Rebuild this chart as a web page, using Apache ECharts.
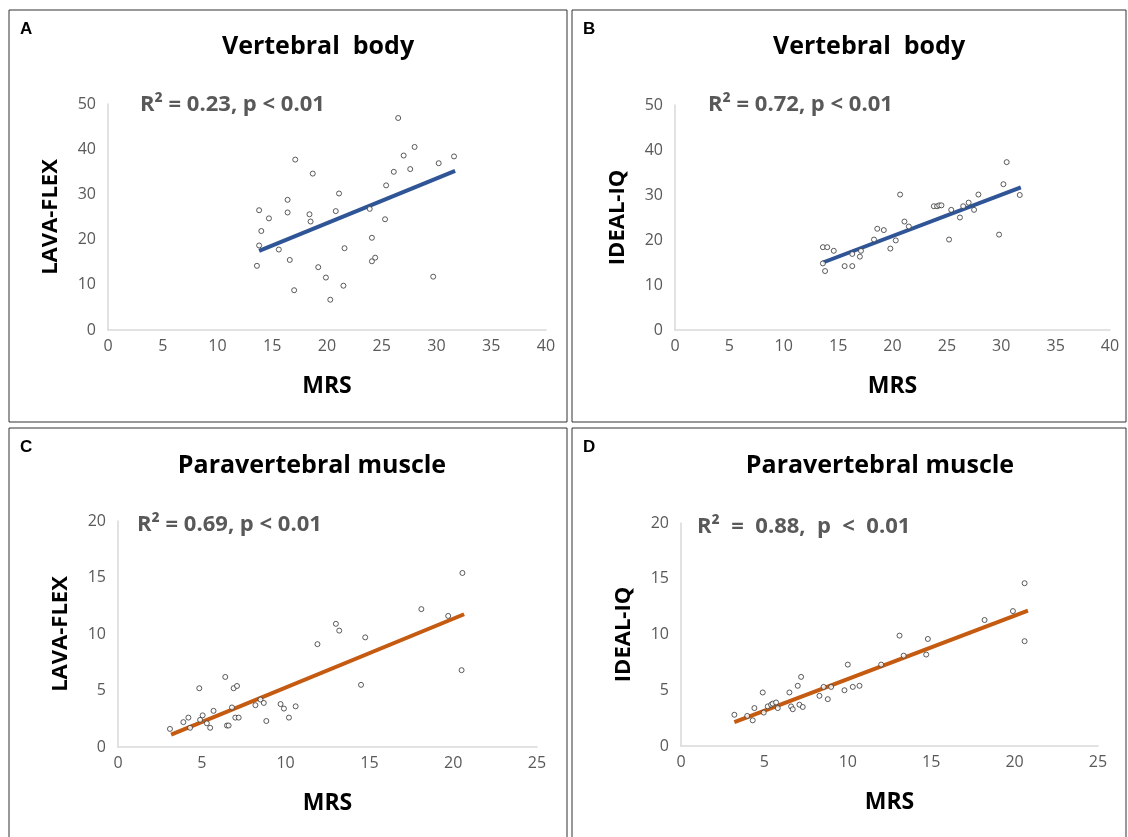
<!DOCTYPE html>
<html>
<head>
<meta charset="utf-8">
<script src="https://cdn.jsdelivr.net/npm/echarts@6/dist/echarts.min.js"></script>
<style>
  html, body { margin: 0; padding: 0; background: #fff; }
  #main { width: 1128px; height: 837px; }
</style>
</head>
<body>
<div id="main"></div>
<script>
// panel A: MRS vs LAVA-FLEX (vertebral body)
const aMrs  = [13.6, 13.8, 13.8, 14.0, 14.7, 15.6, 16.4, 16.4, 16.6, 17.0, 17.1, 18.4, 18.5, 18.7, 19.2, 19.9, 20.3, 20.8, 21.1, 21.5, 21.6, 23.9, 24.1, 24.1, 24.4, 25.3, 25.4, 26.1, 26.5, 27.0, 27.6, 28.0, 29.7, 30.2, 31.6];
const aLava = [14.2, 18.7, 26.5, 21.9, 24.7, 17.8, 28.8, 26.0, 15.5, 8.8, 37.7, 25.6, 24.0, 34.6, 13.9, 11.6, 6.7, 26.3, 30.2, 9.8, 18.1, 26.8, 20.4, 15.2, 16.0, 24.5, 32.0, 35.0, 46.9, 38.6, 35.6, 40.5, 11.8, 36.9, 38.4];
const aFit  = [[13.8, 17.5], [31.7, 35.2]];

// panel B: MRS vs IDEAL-IQ (vertebral body)
const bMrs   = [13.6, 14.0, 13.6, 13.8, 14.6, 15.6, 16.3, 16.3, 17.0, 17.1, 18.3, 18.6, 19.2, 19.8, 20.3, 20.7, 21.1, 21.5, 23.8, 24.1, 24.3, 24.5, 25.2, 25.4, 26.2, 26.5, 27.0, 27.5, 27.9, 29.8, 30.2, 30.5, 31.7];
const bIdeal = [18.4, 18.4, 14.8, 13.1, 17.6, 14.2, 14.2, 16.9, 16.3, 17.6, 20.1, 22.5, 22.2, 18.1, 19.9, 30.1, 24.1, 23.0, 27.5, 27.5, 27.7, 27.7, 20.1, 26.7, 25.0, 27.5, 28.3, 26.7, 30.1, 21.2, 32.4, 37.3, 30.0];
const bFit   = [[13.6, 15.0], [31.8, 31.7]];

// panel C: MRS vs LAVA-FLEX (paravertebral muscle)
const cMrs  = [3.1, 3.9, 4.2, 4.3, 4.85, 4.9, 5.05, 5.3, 5.5, 5.7, 6.4, 6.5, 6.6, 6.8, 6.9, 7.1, 7.0, 7.2, 8.2, 8.5, 8.7, 8.85, 9.7, 9.9, 10.2, 10.6, 11.9, 13.0, 13.2, 14.5, 14.75, 18.1, 19.7, 20.5, 20.55];
const cLava = [1.6, 2.2, 2.6, 1.7, 5.2, 2.4, 2.8, 2.1, 1.7, 3.2, 6.2, 1.9, 1.9, 3.5, 5.2, 5.4, 2.6, 2.6, 3.7, 4.2, 3.9, 2.3, 3.8, 3.4, 2.6, 3.6, 9.1, 10.9, 10.3, 5.5, 9.7, 12.2, 11.6, 6.8, 15.4];
const cFit  = [[3.17, 1.1], [20.65, 11.75]];

// panel D: MRS vs IDEAL-IQ (paravertebral muscle)
const dMrs   = [3.2, 3.97, 4.3, 4.4, 4.9, 4.96, 5.2, 5.4, 5.5, 5.7, 5.8, 6.5, 6.6, 6.7, 7.0, 7.1, 7.2, 7.3, 8.3, 8.55, 8.8, 9.0, 9.8, 10.0, 10.3, 10.7, 12.0, 13.1, 13.35, 14.7, 14.8, 18.2, 19.9, 20.6, 20.6];
const dIdeal = [2.8, 2.7, 2.3, 3.4, 4.8, 3.0, 3.55, 3.7, 3.8, 3.9, 3.4, 4.8, 3.55, 3.3, 5.4, 3.7, 6.2, 3.5, 4.5, 5.3, 4.2, 5.3, 5.0, 7.3, 5.3, 5.4, 7.3, 9.9, 8.1, 8.2, 9.6, 11.3, 12.1, 14.6, 9.4];
const dFit   = [[3.2, 2.15], [20.8, 12.15]];

const panels = [
  { id: "A", title: "Vertebral  body", yName: "LAVA-FLEX", stat: "R\u00b2 = 0.23, p < 0.01", xs: aMrs, ys: aLava, fit: aFit, color: "#2f5597", xMax: 40, yMax: 50, yStep: 10,
    grid: { left: 108, top: 104, width: 438, height: 226 }, box: [9, 10, 558, 412], statPos: [140, 94], titleX: 318, titleY: 47 },
  { id: "B", title: "Vertebral  body", yName: "IDEAL-IQ", stat: "R\u00b2 = 0.72, p < 0.01", xs: bMrs, ys: bIdeal, fit: bFit, color: "#2f5597", xMax: 40, yMax: 50, yStep: 10,
    grid: { left: 675, top: 105, width: 435, height: 225 }, box: [572, 10, 554, 412], statPos: [708, 94], titleX: 869, titleY: 47 },
  { id: "C", title: "Paravertebral muscle", yName: "LAVA-FLEX", stat: "R\u00b2 = 0.69, p < 0.01", xs: cMrs, ys: cLava, fit: cFit, color: "#c55a11", xMax: 25, yMax: 20, yStep: 5,
    grid: { left: 118, top: 521, width: 419, height: 226 }, box: [9, 428, 558, 420], statPos: [137, 514], titleX: 312, titleY: 466 },
  { id: "D", title: "Paravertebral muscle", yName: "IDEAL-IQ", stat: "R\u00b2\u00a0\u00a0=\u00a0\u00a00.88,\u00a0\u00a0p\u00a0\u00a0<\u00a0\u00a00.01", xs: dMrs, ys: dIdeal, fit: dFit, color: "#c55a11", xMax: 25, yMax: 20, yStep: 5,
    grid: { left: 681, top: 523, width: 417, height: 223 }, box: [572, 428, 554, 420], statPos: [697, 516], titleX: 880, titleY: 466 }
];

const font = "'Open Sans', 'Noto Sans', sans-serif";
const chart = echarts.init(document.getElementById("main"));

const grids = [], xAxes = [], yAxes = [], series = [], graphics = [];
panels.forEach((p, i) => {
  grids.push(p.grid);
  xAxes.push({
    gridIndex: i, type: "value", min: 0, max: p.xMax, interval: 5,
    name: "MRS", nameLocation: "middle", nameGap: 45,
    nameTextStyle: { color: "#000", fontSize: 23, fontWeight: "bold", fontFamily: font },
    axisLine: { show: true, lineStyle: { color: "#d9d9d9", width: 1.5 } },
    axisTick: { show: false }, splitLine: { show: false },
    axisLabel: { color: "#595959", fontSize: 16, fontFamily: font, margin: 8 }
  });
  yAxes.push({
    gridIndex: i, type: "value", min: 0, max: p.yMax, interval: p.yStep,
    name: p.yName, nameLocation: "middle", nameGap: 46,
    nameTextStyle: { color: "#000", fontSize: 22, fontWeight: "bold", fontFamily: font },
    axisLine: { show: true, lineStyle: { color: "#d9d9d9", width: 1.5 } },
    axisTick: { show: false }, splitLine: { show: false },
    axisLabel: { color: "#595959", fontSize: 16, fontFamily: font, margin: 12 }
  });
  series.push({
    type: "line", xAxisIndex: i, yAxisIndex: i, data: p.fit, symbol: "none",
    lineStyle: { color: p.color, width: 4 }, z: 2, silent: true
  });
  series.push({
    type: "scatter", xAxisIndex: i, yAxisIndex: i,
    data: p.xs.map((x, k) => [x, p.ys[k]]),
    symbol: "circle", symbolSize: 5,
    itemStyle: { color: "#fff", borderColor: "#333", borderWidth: 1 }, z: 3
  });
  graphics.push({
    type: "rect", shape: { x: p.box[0], y: p.box[1], width: p.box[2], height: p.box[3] },
    style: { fill: null, stroke: "#333", lineWidth: 1 }, silent: true
  });
  graphics.push({
    type: "text", left: p.box[0] + 11, top: p.box[1] + 11,
    style: { text: p.id, font: "bold 17px Arial, 'Liberation Sans', sans-serif", fill: "#000" }
  });
  graphics.push({
    type: "text", x: p.titleX, y: p.titleY,
    style: { text: p.title, font: "bold 25px " + font, fill: "#000", textAlign: "center", textVerticalAlign: "middle" }
  });
  graphics.push({
    type: "text", x: p.statPos[0], y: p.statPos[1],
    style: { text: p.stat, font: "bold 22px " + font, fill: "#595959" }
  });
});

chart.setOption({
  backgroundColor: "#fff",
  animation: false,
  grid: grids,
  xAxis: xAxes,
  yAxis: yAxes,
  series: series,
  graphic: graphics
});
</script>
</body>
</html>
